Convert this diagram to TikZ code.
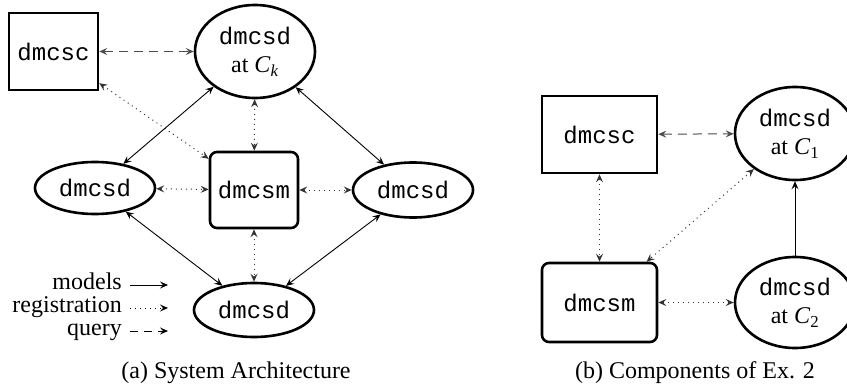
\documentclass[tikz,border=0pt]{standalone}
\usepackage{fontspec}
\setmainfont{Liberation Serif}
\setmonofont{Liberation Mono}
\usetikzlibrary{shapes.geometric,arrows.meta}
\begin{document}
\begin{tikzpicture}[x=1pt,y=-1pt,
  font=\fontsize{24}{28}\selectfont,
  every node/.style={inner sep=0pt},
  sqbox/.style={draw,line width=2.6pt,minimum width=#1,font=\fontsize{24}{28}\selectfont\ttfamily},
  rbox/.style={draw,line width=2.6pt,rounded corners=7pt,font=\fontsize{24}{28}\selectfont\ttfamily},
  ell/.style={draw,ellipse,line width=2.6pt,align=center,font=\fontsize{24}{28}\selectfont},
  legtext/.style={anchor=east,text height=13pt,text depth=4pt},
  >={Stealth[length=8pt,width=7pt,inset=3pt]},
  model/.style={<->,line width=0.9pt},
  reg/.style={<->,line width=1pt,black!80,dash pattern=on 1pt off 4pt},
  qry/.style={<->,line width=1pt,black!70,dash pattern=on 9pt off 6pt},
]
\useasboundingbox (0,0) rectangle (847,388);
% (a)
\node[sqbox=89pt,minimum height=77pt] (ac) at (53.5,51.5) {dmcsc};
\node[ell,minimum width=120pt,minimum height=93pt] (ak) at (255,51.5) {\texttt{dmcsd}\\at \textit{C}\textsubscript{\textit{k}}};
\node[ell,minimum width=120pt,minimum height=52pt] (al) at (95,188) {\texttt{dmcsd}};
\node[rbox,minimum width=88pt,minimum height=76pt] (am) at (254,190) {dmcsm};
\node[ell,minimum width=120pt,minimum height=55pt] (ar) at (413,190) {\texttt{dmcsd}};
\node[ell,minimum width=120pt,minimum height=54pt] (ab) at (254,310) {\texttt{dmcsd}};
\draw[qry] (ac) -- (ak);
\draw[reg] (ac) -- (am);
\draw[reg] (ak) -- (am);
\draw[model] (ak) -- (al);
\draw[model] (ak) -- (ar);
\draw[reg] (al) -- (am);
\draw[reg] (am) -- (ar);
\draw[model] (al) -- (ab);
\draw[model] (ar) -- (ab);
\draw[reg] (am) -- (ab);
% legend
\node[legtext] (lm) at (122,285) {models};
\node[legtext] (lr) at (122,308) {registration};
\node[legtext] (lq) at (122,331) {query};
\coordinate (lme) at (168,285);
\coordinate (lre) at (168,308);
\coordinate (lqe) at (168,331);
\draw[->,line width=0.9pt] ([xshift=8pt]lm.east) -- (lme);
\draw[->,line width=1pt,dash pattern=on 1pt off 4pt] ([xshift=8pt]lr.east) -- (lre);
\draw[->,line width=1pt,dash pattern=on 8pt off 6pt] ([xshift=8pt]lq.east) -- (lqe);
\node (capa) at (236,373) {(a) System Architecture};
% (b)
\node[sqbox=115pt,minimum height=77pt] (bc) at (599.5,134.5) {dmcsc};
\node[ell,minimum width=120pt,minimum height=93pt] (b1) at (795,133.5) {\texttt{dmcsd}\\at \textit{C}\textsubscript{1}};
\node[rbox,minimum width=115pt,minimum height=79pt] (bm) at (599.5,302.5) {dmcsm};
\node[ell,minimum width=120pt,minimum height=91pt] (b2) at (795,302.5) {\texttt{dmcsd}\\at \textit{C}\textsubscript{2}};
\draw[qry] (bc) -- (b1);
\draw[reg] (bc) -- (bm);
\draw[reg] (b1) -- (bm);
\draw[reg] (bm) -- (b2);
\draw[->,line width=0.9pt] (b2) -- (b1);
\node (capb) at (695,373) {(b) Components of Ex. 2};
\end{tikzpicture}
\end{document}
